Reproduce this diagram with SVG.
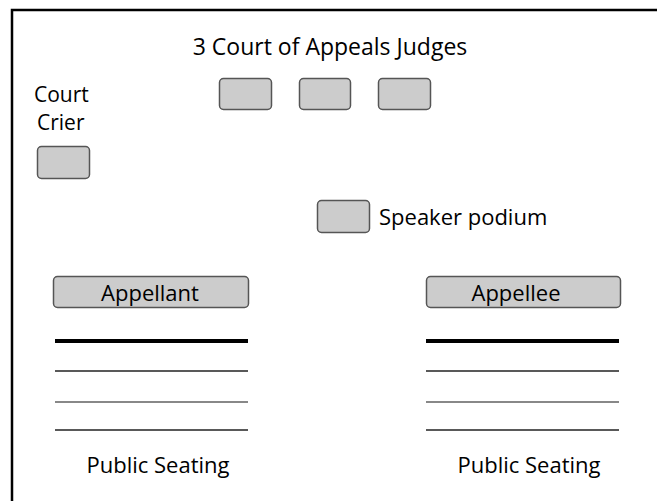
<svg xmlns="http://www.w3.org/2000/svg" width="657" height="501" viewBox="0 0 657 501">
<style>
text{font-family:"Open Sans","DejaVu Sans",sans-serif;font-size:22px;fill:#000}
.box{fill:#cccccc;stroke:#555;stroke-width:1.5}
.thick{stroke:#000;stroke-width:4}
.thin{stroke:#222;stroke-width:1.3}
.gray{stroke:#888;stroke-width:2}
</style>
<rect x="0" y="0" width="657" height="501" fill="#fff"/>
<path d="M12,501 V10 H657" fill="none" stroke="#000" stroke-width="2.5"/>
<g id="judges">
<text x="330" y="55" text-anchor="middle" style="font-size:23px">3 Court of Appeals Judges</text>
<rect class="box" x="219.5" y="78.5" width="52" height="31" rx="4"/>
<rect class="box" x="299.5" y="78.5" width="51" height="31" rx="4"/>
<rect class="box" x="378.5" y="78.5" width="52" height="31" rx="4"/>
</g>
<g id="crier">
<text x="34" y="102" style="font-size:21px">Court</text>
<text x="37" y="130" style="font-size:21px">Crier</text>
<rect class="box" x="37.5" y="146.5" width="52" height="32" rx="4"/>
</g>
<g id="podium">
<rect class="box" x="317.5" y="200.5" width="52" height="32" rx="4"/>
<text x="379" y="225">Speaker podium</text>
</g>
<g id="appellant">
<rect class="box" x="53.5" y="276.5" width="195" height="31" rx="4"/>
<text x="150" y="301" text-anchor="middle">Appellant</text>
</g>
<g id="appellee">
<rect class="box" x="426.5" y="276.5" width="194" height="31" rx="4"/>
<text x="516" y="301" text-anchor="middle">Appellee</text>
</g>
<g id="seating-left">
<line class="thick" x1="55" y1="341" x2="248" y2="341"/>
<line class="thin" x1="55" y1="371" x2="248" y2="371"/>
<line class="gray" x1="55" y1="402" x2="248" y2="402"/>
<line class="thin" x1="55" y1="430" x2="248" y2="430"/>
<text x="158" y="473" text-anchor="middle">Public Seating</text>
</g>
<g id="seating-right">
<line class="thick" x1="426" y1="341" x2="619" y2="341"/>
<line class="thin" x1="426" y1="371" x2="619" y2="371"/>
<line class="gray" x1="426" y1="402" x2="619" y2="402"/>
<line class="thin" x1="426" y1="430" x2="619" y2="430"/>
<text x="529" y="473" text-anchor="middle">Public Seating</text>
</g>
<g id="connectors"></g>
</svg>
